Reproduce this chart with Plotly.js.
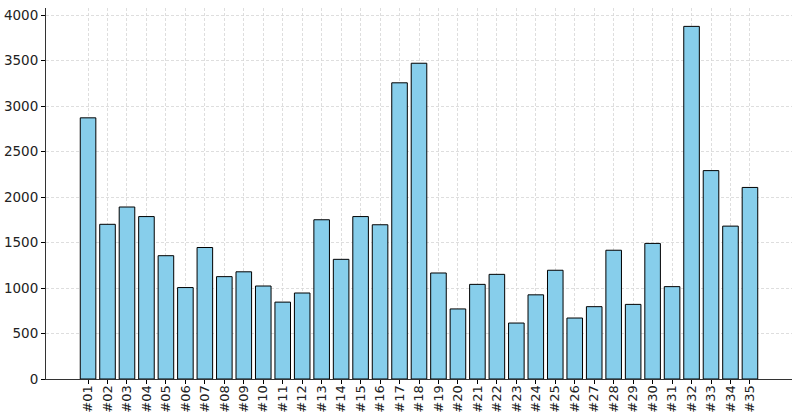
<!DOCTYPE html>
<html>
<head>
<meta charset="utf-8">
<script src="https://cdn.plot.ly/plotly-3.0.1.min.js"></script>
<style>html,body{margin:0;padding:0;background:#fff;}#chart{width:800px;height:419px;}</style>
</head>
<body>
<div id="chart"></div>
<script>
const categories = ["#01","#02","#03","#04","#05","#06","#07","#08","#09","#10",
  "#11","#12","#13","#14","#15","#16","#17","#18","#19","#20",
  "#21","#22","#23","#24","#25","#26","#27","#28","#29","#30",
  "#31","#32","#33","#34","#35"];
const values = [2870,1700,1890,1785,1355,1005,1445,1125,1178,1022,
  845,945,1750,1315,1785,1695,3255,3470,1165,770,
  1040,1150,615,925,1195,670,795,1415,820,1490,
  1015,3875,2290,1680,2105];
const yTicks = [0,500,1000,1500,2000,2500,3000,3500,4000];

const trace = {
  type: 'bar',
  x: categories,
  y: values,
  width: 0.8,
  marker: {color: '#87CEEB', line: {color: '#000000', width: 1}},
  hoverinfo: 'x+y'
};

const gridStyle = {showgrid: true, gridcolor: '#d6d6d6', griddash: '3px,2px', gridwidth: 0.8};

const layout = {
  width: 800, height: 419,
  margin: {l: 46, r: 8, t: 8, b: 40, pad: 0},
  paper_bgcolor: '#ffffff', plot_bgcolor: '#ffffff',
  font: {family: 'DejaVu Sans', size: 13.5, color: '#222'},
  showlegend: false,
  bargap: 0.2,
  xaxis: Object.assign({
    type: 'category',
    range: [-2.16, 36.16],
    tickangle: -90,
    tickfont: {size: 13},
    ticklabelstandoff: -4,
    ticks: 'outside', ticklen: 4, tickcolor: '#000', tickwidth: 1,
    showline: true, linecolor: '#333', linewidth: 1,
    zeroline: false,
    automargin: false
  }, gridStyle),
  yaxis: Object.assign({
    range: [0, 4077],
    tickvals: yTicks,
    ticktext: yTicks.map(String),
    ticks: 'outside', ticklen: 4, tickcolor: '#000', tickwidth: 1,
    showline: true, linecolor: '#333', linewidth: 1,
    zeroline: false,
    automargin: false
  }, gridStyle)
};

Plotly.newPlot('chart', [trace], layout, {staticPlot: true, displayModeBar: false});
</script>
</body>
</html>
